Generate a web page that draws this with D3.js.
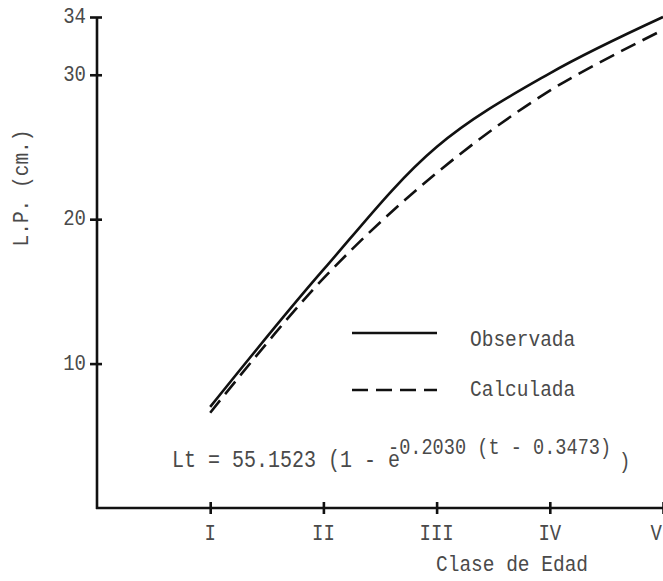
<!DOCTYPE html>
<html>
<head>
<meta charset="utf-8">
<script src="https://cdn.jsdelivr.net/npm/d3@7"></script>
<style>
  html, body { margin: 0; padding: 0; background: #fff; }
  svg { display: block; }
  text { font-family: "Liberation Mono", "Courier New", monospace; fill: #4a4a4a; }
</style>
</head>
<body>
<svg id="chart" width="663" height="581"></svg>
<script>
// ---- data ----
const categories = ["I", "II", "III", "IV", "V"];
const observada = [7.0, 16.5, 25.0, 30.1, 34.0];
const calculada = [6.6, 15.9, 23.2, 28.9, 33.1];
const yTicks = [10, 20, 30, 34];
const seriesNames = ["Observada", "Calculada"];

const svg = d3.select("#chart");
const ink = "#111";

const x = d3.scaleLinear().domain([0, 5]).range([97, 663]);
const y = d3.scaleLinear().domain([0, 34]).range([508, 17]);

function txt(sel, px, py, s, anchor, size) {
  return sel.append("text")
    .attr("transform", `translate(${px},${py}) scale(1,1.15)`)
    .attr("text-anchor", anchor || "start")
    .attr("font-size", size || 19.5)
    .text(s);
}

// y axis
const yAxis = svg.append("g")
  .attr("transform", `translate(${x(0)},0)`)
  .call(d3.axisLeft(y).tickValues(yTicks).tickSize(0).tickFormat(""));
yAxis.select(".domain").remove();
yAxis.append("line").attr("x1", 0).attr("x2", 0).attr("y1", y(34)).attr("y2", y(0) + 1)
  .attr("stroke", ink).attr("stroke-width", 2.6);
yAxis.selectAll(".tick line").attr("x1", -7).attr("x2", 5).attr("stroke", ink).attr("stroke-width", 2.6);
yTicks.forEach(v => txt(svg, 86, y(v) + 6, String(v), "end", 19));

// x axis
const xAxis = svg.append("g")
  .attr("transform", `translate(0,${y(0)})`)
  .call(d3.axisBottom(x).tickValues(categories.map((c, i) => i + 1)).tickSize(0).tickFormat(""));
xAxis.select(".domain").remove();
xAxis.append("line").attr("x1", x(0) - 1).attr("x2", x(5)).attr("y1", 0).attr("y2", 0)
  .attr("stroke", ink).attr("stroke-width", 2.6);
xAxis.selectAll(".tick line").attr("y1", -6).attr("y2", 6).attr("stroke", ink).attr("stroke-width", 2.6);
categories.forEach((c, i) => {
  const last = i === categories.length - 1;
  txt(svg, last ? 662 : x(i + 1), 540, c, last ? "end" : "middle", 19);
});

// axis titles
txt(svg, 512, 571, "Clase de Edad", "middle", 19.5);
svg.append("text")
  .attr("transform", "translate(28,188) rotate(-90) scale(1,1.15)")
  .attr("text-anchor", "middle")
  .attr("font-size", 19.5)
  .text("L.P. (cm.)");

// curves
const line = d3.line()
  .x((d, i) => x(i + 1))
  .y(d => y(d))
  .curve(d3.curveCatmullRom.alpha(0.5));

svg.append("path").datum(observada).attr("d", line)
  .attr("fill", "none").attr("stroke", ink).attr("stroke-width", 2.6);
svg.append("path").datum(calculada).attr("d", line)
  .attr("fill", "none").attr("stroke", ink).attr("stroke-width", 2.6)
  .attr("stroke-dasharray", "16,8");

// legend
svg.append("line").attr("x1", 352).attr("x2", 437).attr("y1", 333).attr("y2", 333)
  .attr("stroke", ink).attr("stroke-width", 2.6);
txt(svg, 470, 346, seriesNames[0], "start", 19.5);
svg.append("line").attr("x1", 352).attr("x2", 437).attr("y1", 390).attr("y2", 390)
  .attr("stroke", ink).attr("stroke-width", 2.6).attr("stroke-dasharray", "16,8");
txt(svg, 470, 396, seriesNames[1], "start", 19.5);

// formula
txt(svg, 172, 467, "Lt = 55.1523 (1 - e", "start", 20);
txt(svg, 388, 454, "-0.2030 (t - 0.3473)", "start", 18.6);
txt(svg, 619, 468, ")", "start", 19);
</script>
</body>
</html>
